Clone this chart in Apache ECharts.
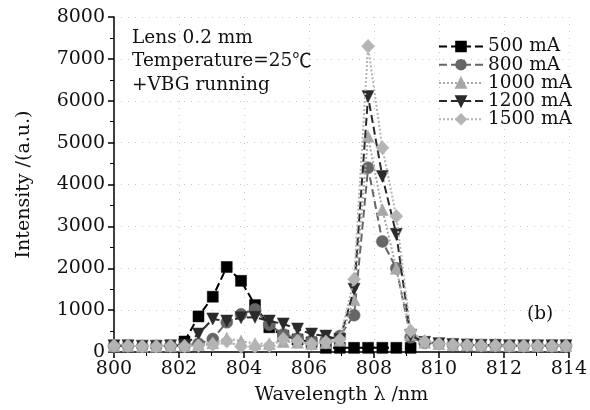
<!DOCTYPE html>
<html><head><meta charset="utf-8">
<script src="https://cdn.jsdelivr.net/npm/echarts@6/dist/echarts.min.js"></script>
<style>html,body{margin:0;padding:0;background:#fff}#c{width:590px;height:410px}</style>
</head><body><div id="c"></div>
<script>
var wavelength = [800.0,800.43,800.87,801.3,801.74,802.17,802.6,803.04,803.47,803.91,804.34,804.78,805.21,805.65,806.08,806.52,806.95,807.39,807.82,808.26,808.69,809.13,809.56,810.0,810.43,810.87,811.3,811.74,812.17,812.61,813.04,813.48,813.91];
var s500  = [null,null,null,null,null,250,850,1320,2030,1700,1120,590,390,300,230,100,100,100,100,100,100,100,null,null,null,null,null,null,null,null,null,null,null];
var s800  = [150,150,140,140,150,150,200,310,710,900,1020,650,420,320,260,280,380,880,4400,2640,2000,350,220,200,180,170,160,160,150,150,150,150,150];
var s1000 = [150,150,140,140,150,150,180,220,330,260,200,200,250,230,200,220,280,1250,5150,3400,2000,420,230,200,180,170,160,160,150,150,150,150,150];
var s1200 = [150,150,140,140,150,160,430,790,740,820,830,740,670,550,430,380,300,1500,6100,4190,2810,400,230,200,180,170,160,160,150,150,150,150,150];
var s1500 = [150,150,140,140,150,140,150,180,260,130,130,150,310,260,200,240,300,1740,7300,4880,3240,500,250,200,180,170,160,160,150,150,150,150,150];
var seriesNames = ['500 mA','800 mA','1000 mA','1200 mA','1500 mA'];
var yTicks = [0,1000,2000,3000,4000,5000,6000,7000,8000];
var xTicks = [800,802,804,806,808,810,812,814];

function pairs(vals){ var o=[]; for(var i=0;i<wavelength.length;i++){ if(vals[i]!==null) o.push([wavelength[i], vals[i]]);} return o; }
var FONT = 'DejaVu Serif';
var styles = [
  {c:'#000000', sym:'rect', type:'dashed', size:11},
  {c:'#666666', sym:'circle', type:'dashed', size:12},
  {c:'#a8a8a8', sym:'triangle', type:'dotted', size:12},
  {c:'#2a2a2a', sym:'path://M0,0 L10,0 L5,9 Z', type:'dashed', size:12},
  {c:'#b4b4b4', sym:'diamond', type:'dotted', size:[13,14]}
];
var allVals = [s500,s800,s1000,s1200,s1500];
var series = allVals.map(function(v,i){
  var st = styles[i];
  return {
    name: seriesNames[i], type:'line', data: pairs(v),
    symbol: st.sym, symbolSize: st.size, showAllSymbol:true,
    lineStyle:{color:st.c, width:2, type:st.type},
    itemStyle:{color:st.c, borderColor:st.c, borderWidth:0.5},
    z: 2+i
  };
});
var chart = echarts.init(document.getElementById('c'), null, {renderer:'canvas'});
chart.setOption({
  animation:false,
  backgroundColor:'#fff',
  grid:{left:114, right:20, top:17, bottom:57, containLabel:false},
  title:{
    text:'Lens 0.2 mm\nTemperature=25{c|℃}\n+VBG running',
    left:127, top:21,
    textStyle:{fontFamily:FONT, fontSize:18.5, fontWeight:'normal', color:'#111', lineHeight:23.5,
      rich:{c:{fontFamily:'Noto Sans CJK SC', fontSize:19.5, color:'#111', lineHeight:23.5, padding:[0,0,3,0]}}}
  },
  legend:{
    orient:'vertical', left:433, top:32, itemWidth:44, itemHeight:12, itemGap:-0.8,
    textStyle:{fontFamily:FONT, fontSize:18.5, color:'#111', lineHeight:17},
    data: seriesNames
  },
  graphic:[{type:'text', left:527, top:305, style:{text:'(b)', font:'18.5px "DejaVu Serif"', fill:'#111'}}],
  xAxis:{
    type:'value', min:800, max:814, interval:2,
    name:'Wavelength λ /nm', nameLocation:'middle', nameGap:34,
    nameTextStyle:{fontFamily:FONT, fontSize:19, color:'#111'},
    axisLine:{show:true, lineStyle:{color:'#000', width:1.5}},
    axisTick:{show:true, inside:false, length:6, lineStyle:{color:'#000', width:1.5}},
    minorTick:{show:true, splitNumber:2, length:4, lineStyle:{color:'#000'}},
    axisLabel:{fontFamily:FONT, fontSize:19, color:'#111', margin:8, formatter:function(v){return String(v);}},
    splitLine:{show:true, lineStyle:{color:'#c8c8c8', type:[1,6], width:1}}
  },
  yAxis:{
    type:'value', min:0, max:8000, interval:1000,
    name:'Intensity /(a.u.)', nameLocation:'middle', nameGap:80,
    nameTextStyle:{fontFamily:FONT, fontSize:19, color:'#111'},
    axisLine:{show:true, lineStyle:{color:'#000', width:1.5}},
    axisTick:{show:true, inside:false, length:6, lineStyle:{color:'#000', width:1.5}},
    minorTick:{show:true, splitNumber:2, length:4, lineStyle:{color:'#000'}},
    axisLabel:{fontFamily:FONT, fontSize:19, color:'#111', margin:9, formatter:function(v){return String(v);}},
    splitLine:{show:true, lineStyle:{color:'#c8c8c8', type:[1,6], width:1}}
  },
  series: series
});
</script></body></html>
